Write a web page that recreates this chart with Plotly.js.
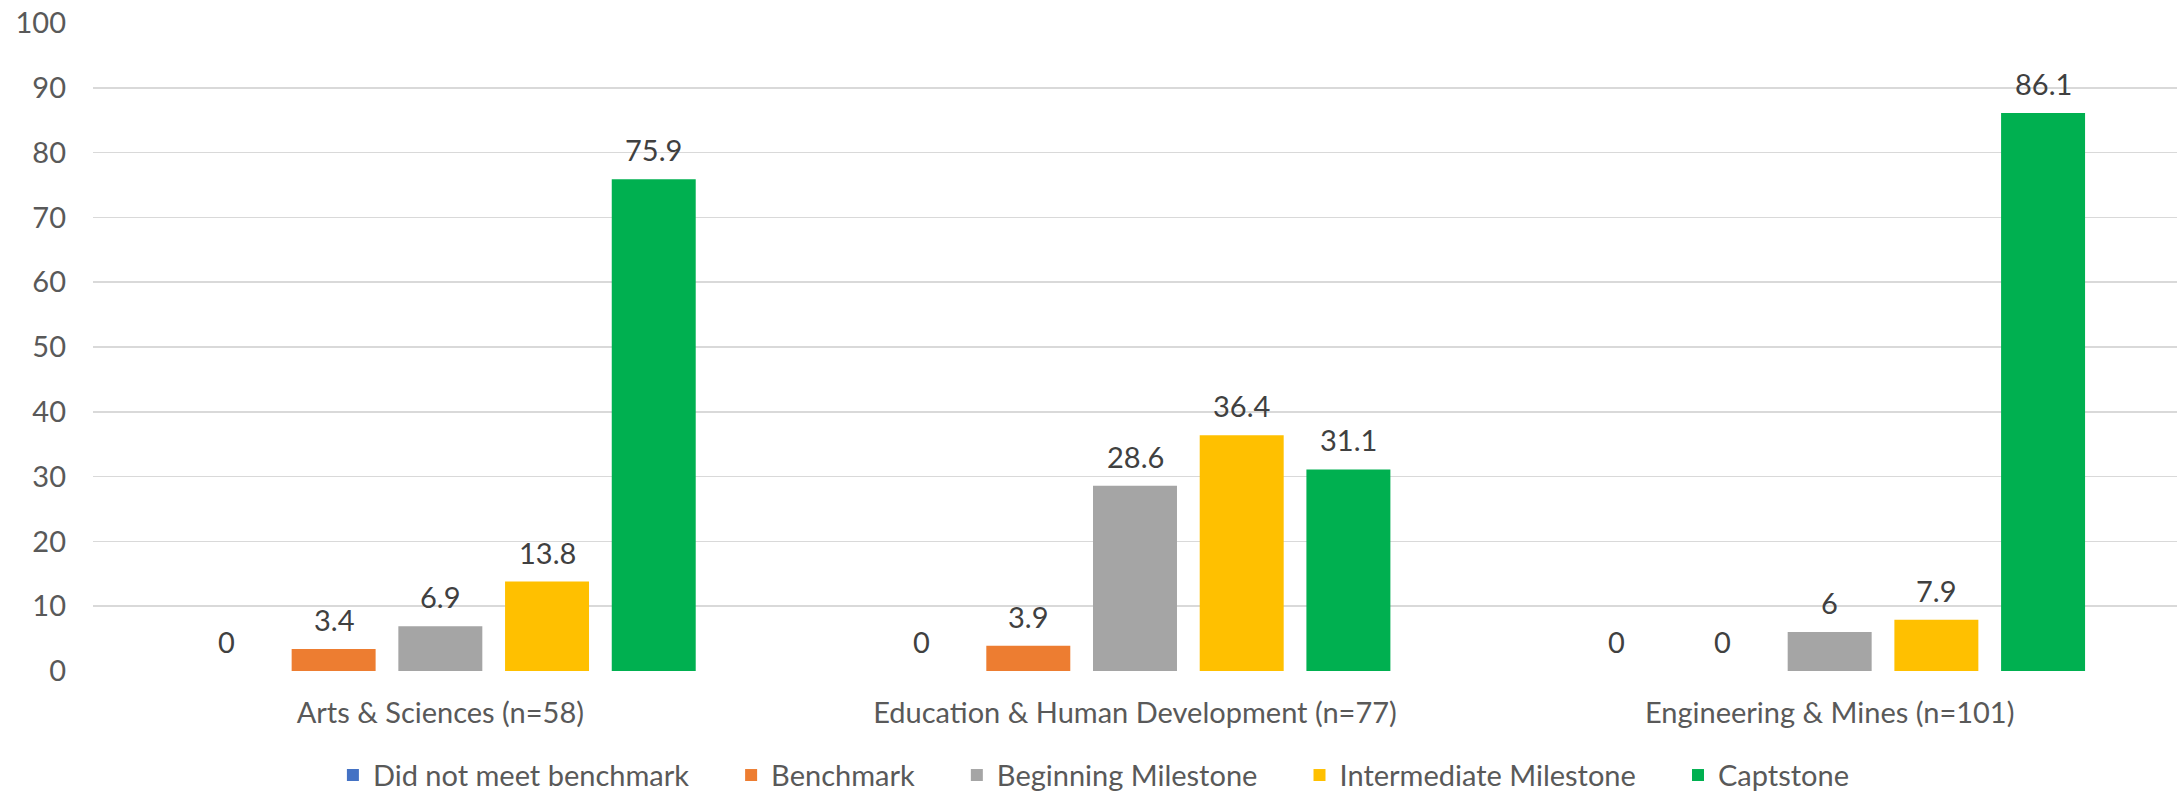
<!DOCTYPE html>
<html>
<head>
<meta charset="utf-8">
<script src="https://cdn.plot.ly/plotly-3.0.1.min.js"></script>
<style>html,body{margin:0;padding:0;background:#fff;}#chart{width:2183px;height:791px;}</style>
</head>
<body>
<div id="chart"></div>
<script>
var categories = ["Arts & Sciences (n=58)", "Education & Human Development (n=77)", "Engineering & Mines (n=101)"];
var seriesNames = ["Did not meet benchmark", "Benchmark", "Beginning Milestone", "Intermediate Milestone", "Captstone"];
var didNotMeet = [0, 0, 0];
var benchmark = [3.4, 3.9, 0];
var beginningMilestone = [6.9, 28.6, 6];
var intermediateMilestone = [13.8, 36.4, 7.9];
var captstone = [75.9, 31.1, 86.1];
var yTicks = [0, 10, 20, 30, 40, 50, 60, 70, 80, 90, 100];

var seriesValues = [didNotMeet, benchmark, beginningMilestone, intermediateMilestone, captstone];
var colors = ["#4472C4", "#ED7D31", "#A5A5A5", "#FFC000", "#00B050"];
var FONT = "Lato, 'Open Sans', sans-serif";
var FS = 29;
var BARGAP = 0.232, GROUPGAP = 0.213;
var PAD = "\u00a0\u00a0\u00a0\u00a0\u00a0";

var traces = seriesValues.map(function (vals, k) {
  return {
    type: "bar",
    name: seriesNames[k] + PAD,
    x: categories,
    y: vals,
    marker: {color: colors[k]},
    hoverinfo: "skip"
  };
});

var nS = seriesValues.length;
var slot = (1 - BARGAP) / nS;
var annotations = [];
seriesValues.forEach(function (vals, k) {
  vals.forEach(function (v, i) {
    annotations.push({
      xref: "x", yref: "y",
      x: i + (k - (nS - 1) / 2) * slot,
      y: v,
      text: String(v),
      showarrow: false,
      yanchor: "bottom",
      xanchor: "center",
      yshift: 10,
      font: {family: FONT, size: FS, color: "#404040"}
    });
  });
});

var layout = {
  width: 2183, height: 791,
  margin: {l: 93, r: 6, t: 23, b: 120, pad: 0},
  paper_bgcolor: "#ffffff", plot_bgcolor: "#ffffff",
  barmode: "group",
  bargap: BARGAP,
  bargroupgap: GROUPGAP,
  font: {family: FONT, size: FS, color: "#595959"},
  xaxis: {
    type: "category",
    showgrid: false, zeroline: false, showline: false,
    ticks: "", ticklabelstandoff: 22,
    tickfont: {family: FONT, size: FS, color: "#595959"}
  },
  yaxis: {
    range: [0, 100],
    tickvals: yTicks,
    ticktext: yTicks.map(String),
    showgrid: true, gridcolor: "#D9D9D9", gridwidth: 1.5,
    zeroline: false, showline: false, ticks: "",
    ticklabelstandoff: 26,
    tickfont: {family: FONT, size: FS, color: "#595959"}
  },
  showlegend: true,
  legend: {
    orientation: "h",
    xref: "container", yref: "container",
    x: 0.1525, xanchor: "left",
    y: 0.02, yanchor: "middle",
    font: {family: FONT, size: FS, color: "#595959"},
    traceorder: "normal",
    itemclick: false, itemdoubleclick: false
  },
  annotations: annotations
};

Plotly.newPlot("chart", traces, layout, {staticPlot: true, displayModeBar: false});
</script>
</body>
</html>
